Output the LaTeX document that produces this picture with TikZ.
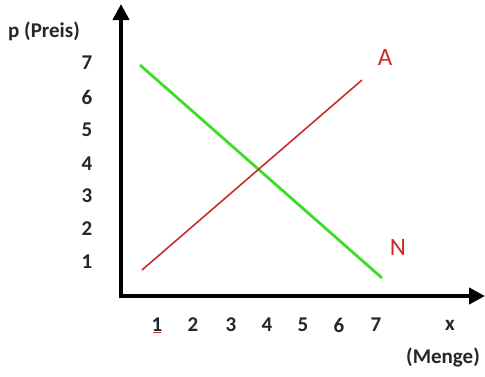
\documentclass[tikz,border=0pt]{standalone}
\usepackage{fontspec}
\setmainfont{Carlito}
\usetikzlibrary{arrows.meta}
\definecolor{redline}{RGB}{200,45,45}
\definecolor{greenline}{RGB}{60,220,40}
\definecolor{redtext}{RGB}{205,40,40}
\tikzset{
  axis/.style={line width=4.5pt,-{Triangle[width=16pt,length=16pt]}},
  tick/.style={font=\fontsize{21}{21}\selectfont\bfseries, text=black!85},
  curvelabel/.style={font=\fontsize{25}{25}\selectfont, text=redtext},
}
\begin{document}
\begin{tikzpicture}[x=1pt,y=-1pt]
\useasboundingbox (0,0) rectangle (485,376);
\coordinate (O) at (121,296);
\coordinate (ytip) at (121,4);
\coordinate (xtip) at (485,296);
\coordinate (yst) at (121,30);
\draw[line width=4.5pt, line join=miter, -{Triangle[width=16pt,length=16pt]}] (yst) -- (O) -- (xtip);
\draw[axis] (121,200) -- (ytip);
% lines
\coordinate (g1) at (140,65);
\coordinate (g2) at (382,278);
\coordinate (r1) at (142,270);
\coordinate (r2) at (362,80);
\draw[greenline, line width=2.8pt] (g1) -- (g2);
\draw[redline, line width=1.6pt] (r1) -- (r2);
\node[curvelabel] (A) at (385,57) {A};
\node[curvelabel] (N) at (398,247) {N};
% y labels
\node[tick] (py) at (44,31) {p (Preis)};
\foreach \v/\y in {7/63,6/97,5/130,4/164,3/196,2/229,1/262}
  \node[tick] (y\v) at (87,\y) {\v};
% x labels
\foreach \v/\x in {1/157,2/193,3/231,4/267,5/303,6/339,7/376}
  \node[tick] (x\v) at (\x,325) {\v};
\node[tick] (xl) at (450,325) {x};
\node[tick] (mg) at (443,357) {(Menge)};
\draw[redline, line width=1pt] ([xshift=-4pt,yshift=3pt]x1.south) -- ([xshift=4pt,yshift=3pt]x1.south);
\end{tikzpicture}
\end{document}
